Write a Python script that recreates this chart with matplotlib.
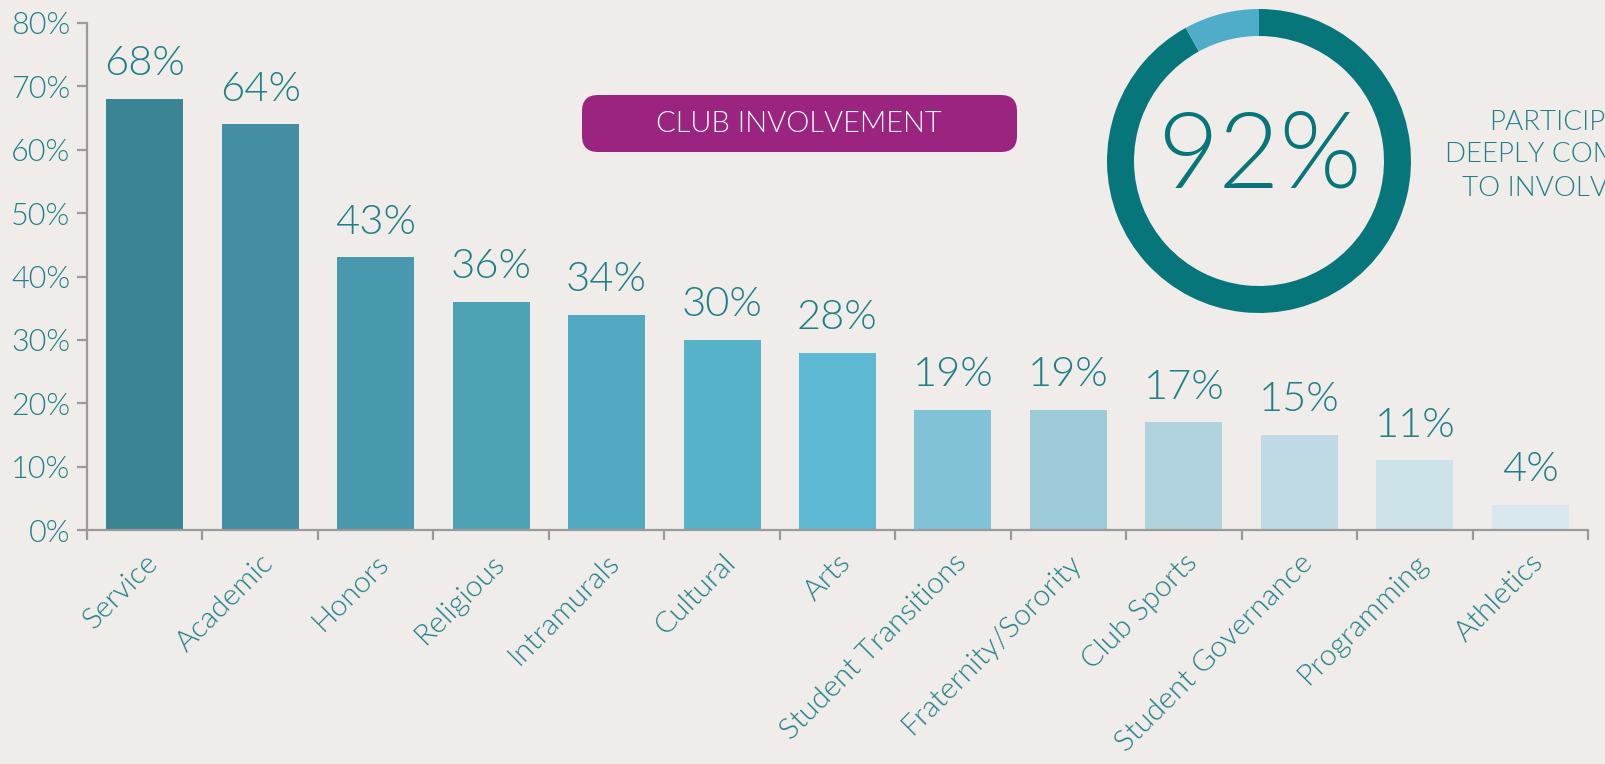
import matplotlib
matplotlib.use("Agg")
import matplotlib.pyplot as plt
from matplotlib.patches import FancyBboxPatch
import numpy as np

categories = ["Service", "Academic", "Honors", "Religious", "Intramurals", "Cultural", "Arts",
              "Student Transitions", "Fraternity/Sorority", "Club Sports", "Student Governance",
              "Programming", "Athletics"]
values = [68, 64, 43, 36, 34, 30, 28, 19, 19, 17, 15, 11, 4]
bar_colors = ["#3b8494", "#438ea2", "#4898ae", "#4da2b6", "#52aac2", "#55b2c9", "#5cb8d3",
              "#80c3d6", "#9ccad9", "#b0d3df", "#bfdae4", "#cde3ea", "#d9e7ee"]
yticks = [0, 10, 20, 30, 40, 50, 60, 70, 80]
donut_values = [92, 8]
donut_label = "92%"
side_text = "PARTICIPANTS\nDEEPLY COMMITTED\nTO INVOLVEMENT"
title_text = "CLUB INVOLVEMENT"

BG = "#f0ece9"
TEXT = "#1f8088"
AXIS = "#9a9a9a"
FONT = ["Lato", "DejaVu Sans"]
WT = 300

plt.rcParams["font.family"] = FONT

W, H = 1605, 764
fig = plt.figure(figsize=(W / 100, H / 100), dpi=100, facecolor=BG)

ax = fig.add_axes([87 / W, 1 - 530 / H, (1588 - 87) / W, (530 - 23) / H])
ax.set_facecolor(BG)
x = np.arange(len(categories))
ax.bar(x, values, width=0.667, color=bar_colors, zorder=2)
ax.set_xlim(-0.5, len(categories) - 0.5)
ax.set_ylim(0, 80)

for xi, v in zip(x, values):
    ax.annotate(f"{v}%", (xi, v), xytext=(0, 12), textcoords="offset points",
                ha="center", va="bottom", fontsize=30, color=TEXT, fontweight=WT)

for s in ["top", "right"]:
    ax.spines[s].set_visible(False)
for s in ["left", "bottom"]:
    ax.spines[s].set_color(AXIS)
    ax.spines[s].set_linewidth(1.6)

ax.set_yticks(yticks)
ax.set_yticklabels([f"{t}%" for t in yticks], fontsize=22, color=TEXT, fontweight=WT)
ax.tick_params(axis="y", length=7, width=1.6, color=AXIS, pad=5)

ax.set_xticks(np.arange(len(categories) + 1) - 0.5, minor=False)
ax.set_xticklabels([])
ax.tick_params(axis="x", length=7, width=1.6, color=AXIS)
ax.set_xticks(x, minor=True)
ax.set_xticklabels(categories, minor=True, rotation=45, ha="right", va="top",
                   rotation_mode="anchor", fontsize=21.5, color=TEXT, fontweight=WT)
ax.tick_params(axis="x", which="minor", length=0, pad=14)

# Title badge
box = FancyBboxPatch((582 / W, 1 - 152 / H), (1017 - 582) / W, (152 - 95) / H,
                     boxstyle="round,pad=0,rounding_size=0.01", transform=fig.transFigure,
                     facecolor="#9b2480", edgecolor="none", mutation_aspect=W / H)
fig.patches.append(box)
fig.text(799 / W, 1 - 124 / H, title_text, ha="center", va="center", fontsize=21,
         color="white", fontweight=WT)

# Donut
dax = fig.add_axes([(1259 - 160) / W, 1 - (161 + 160) / H, 320 / W, 320 / H])
dax.set_facecolor("none")
dax.pie(donut_values, colors=["#07767b", "#4fadc9"], startangle=90 + 360 * donut_values[1] / 100,
        counterclock=True, radius=1.0, wedgeprops=dict(width=27 / 152, edgecolor="none"))
dax.set_xlim(-160 / 152, 160 / 152)
dax.set_ylim(-160 / 152, 160 / 152)
dax.set_aspect("equal")
dax.axis("off")
fig.text(1259 / W, 1 - 158 / H, donut_label, ha="center", va="center", fontsize=76,
         color="#07767b", fontweight=WT)

fig.text(1582 / W, 1 - 155 / H, side_text, ha="center", va="center", fontsize=20,
         color=TEXT, fontweight=WT, linespacing=1.4)

fig.savefig("out.png", dpi=100, facecolor=BG)
